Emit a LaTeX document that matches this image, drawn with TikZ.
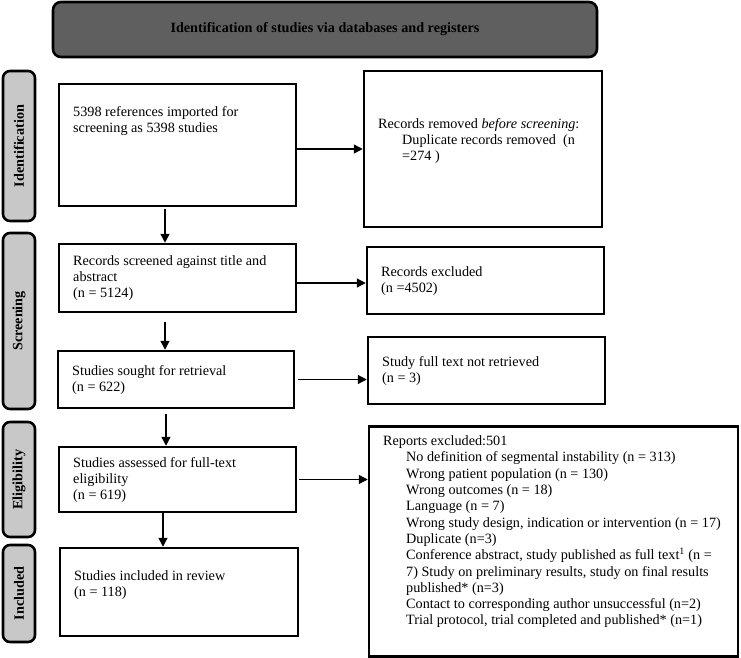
\documentclass[tikz,border=0pt]{standalone}
\usepackage{fontspec}
\setmainfont{Liberation Serif}
\usetikzlibrary{arrows.meta}
\definecolor{bannergray}{RGB}{95,95,95}
\definecolor{stagegray}{RGB}{200,200,200}
\begin{document}
\begin{tikzpicture}[x=1pt,y=-1pt,
  box/.style={draw,line width=2.5pt,inner sep=0pt},
  banner/.style={draw,line width=2.6pt,rounded corners=8pt,fill=bannergray,inner sep=0pt,
    font=\bfseries\fontsize{14.2}{16}\selectfont},
  stage/.style={draw,line width=2.6pt,rounded corners=7pt,fill=stagegray,inner sep=0pt,
    rotate=90,font=\bfseries\fontsize{14.2}{16}\selectfont},
  txt/.style={anchor=north west,align=left,inner sep=0pt,font=\fontsize{14.2}{16}\selectfont},
  reptxt/.style={anchor=north west,align=left,inner sep=0pt,font=\fontsize{14.2}{16.3}\selectfont},
  arr/.style={line width=1.3pt,-{Triangle[length=9pt,width=9pt]}}]
\useasboundingbox (0,0) rectangle (741,658);

% banner
\node[banner,minimum width=544pt,minimum height=55pt] (ban) at (325,29.5)
  {Identification of studies via databases and registers};

% stage labels
\node[stage,minimum width=150pt,minimum height=32pt] (s1) at (19,146) {Identification};
\node[stage,minimum width=176pt,minimum height=32pt] (s2) at (19,321) {Screening};
\node[stage,minimum width=115pt,minimum height=32pt] (s3) at (19,479.5) {Eligibility};
\node[stage,minimum width=97pt,minimum height=32pt] (s4) at (19,593.5) {Included};

% left boxes
\node[box,minimum width=237pt,minimum height=122pt] (b1) at (177.5,145) {};
\node[box,minimum width=237pt,minimum height=68pt] (b2) at (177.5,278) {};
\node[box,minimum width=236pt,minimum height=57pt] (b3) at (176,379.5) {};
\node[box,minimum width=237pt,minimum height=65pt] (b4) at (177.5,479.5) {};
\node[box,minimum width=238pt,minimum height=88pt] (b5) at (179,592) {};

% right boxes
\node[box,minimum width=238pt,minimum height=156pt] (rm) at (483,149) {};
\node[box,minimum width=237pt,minimum height=67pt] (exc) at (485.5,280.5) {};
\node[box,minimum width=237pt,minimum height=67pt] (nr) at (486.5,370.5) {};
\node[box,minimum width=369pt,minimum height=230pt] (rep) at (553.5,541.5) {};

% texts
\node[txt] (b1t) at (73,106.6) {5398 references imported for\\screening as 5398 studies};
\node[txt] (rmt) at (378,118.6) {Records removed \textit{before screening}:\\
  \hspace*{24pt}Duplicate records removed\ \ (n\\\hspace*{24pt}=274 )};
\node[txt] (b2t) at (73,255.6) {Records screened against title and\\abstract\\(n = 5124)};
\node[txt] (exct) at (381,266.6) {Records excluded\\(n =4502)};
\node[txt] (b3t) at (72,365.6) {Studies sought for retrieval\\(n = 622)};
\node[txt] (nrt) at (382,356.6) {Study full text not retrieved\\(n = 3)};
\node[txt] (b4t) at (73,457.6) {Studies assessed for full-text\\eligibility\\(n = 619)};
\node[txt] (b5t) at (74,570.6) {Studies included in review\\(n = 118)};
\node[reptxt] (rept) at (383,435.6) {Reports excluded:501\\
  \hspace*{23pt}No definition of segmental instability (n = 313)\\
  \hspace*{23pt}Wrong patient population (n = 130)\\
  \hspace*{23pt}Wrong outcomes (n = 18)\\
  \hspace*{23pt}Language (n = 7)\\
  \hspace*{23pt}Wrong study design, indication or intervention (n = 17)\\
  \hspace*{23pt}Duplicate (n=3)\\
  \hspace*{23pt}Conference abstract, study published as full text\textsuperscript{1} (n =\\
  \hspace*{23pt}7) Study on preliminary results, study on final results\\
  \hspace*{23pt}published* (n=3)\\
  \hspace*{23pt}Contact to corresponding author unsuccessful (n=2)\\
  \hspace*{23pt}Trial protocol, trial completed and published* (n=1)};

% arrows
\coordinate (v1) at (165,0);
\coordinate (v3) at (166,0);
\coordinate (v4) at (163,0);
\coordinate (h2) at (0,283);
\draw[arr,shorten <=2pt] (b1.south -| v1) -- (b2.north -| v1);
\draw[arr,shorten <=9pt] (b2.south -| v1) -- (b3.north -| v1);
\draw[arr,shorten <=5pt] (b3.south -| v3) -- (b4.north -| v3);
\draw[arr] (b4.south -| v4) -- (b5.north -| v4);
\draw[arr] (b1.east |- rm.west) -- (rm.west);
\draw[arr] (b2.east |- h2) -- (exc.west |- h2);
\draw[arr,shorten <=3pt] (b3.east) -- (nr.west |- b3.east);
\draw[arr,shorten <=2pt] (b4.east) -- (rep.west |- b4.east);
\end{tikzpicture}
\end{document}
